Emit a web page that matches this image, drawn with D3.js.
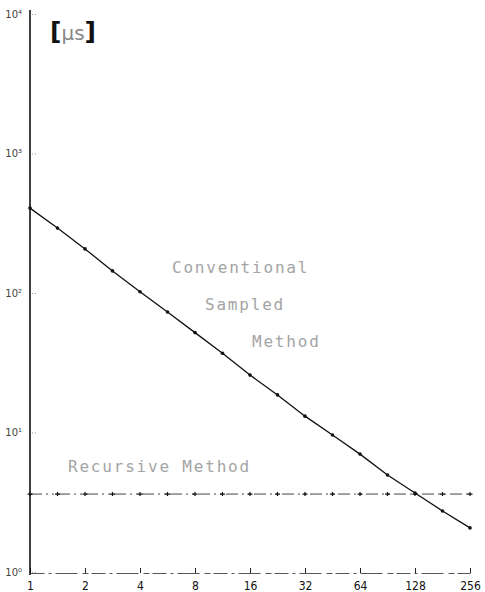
<!DOCTYPE html>
<html>
<head>
<meta charset="utf-8">
<script src="https://cdn.jsdelivr.net/npm/d3@7"></script>
<style>
  body { margin: 0; background: #fff; }
  svg { display: block; }
  .lbl { font-family: "DejaVu Sans Mono", monospace; fill: #a4a4a4; }
</style>
</head>
<body>
<svg id="chart" width="485" height="592"></svg>
<script>
var sizes = [1, 1.414, 2, 2.828, 4, 5.657, 8, 11.31, 16, 22.63, 32, 45.25, 64, 90.51, 128, 181.0, 256];
var conventional = [406, 292, 207, 144, 102, 73, 52, 37, 25.8, 18.6, 13.1, 9.6, 7.0, 4.96, 3.68, 2.74, 2.07];
var recursive = [3.62, 3.62, 3.62, 3.62, 3.62, 3.62, 3.62, 3.62, 3.62, 3.62, 3.62, 3.62, 3.62, 3.62, 3.62, 3.62, 3.62];
var xTicks = [1, 2, 4, 8, 16, 32, 64, 128, 256];
var yTicks = [1, 10, 100, 1000, 10000];
var yTickLabels = ["10\u2070", "10\u00b9", "10\u00b2", "10\u00b3", "10\u2074"];

var svg = d3.select("#chart");

var x = d3.scaleLog().base(2).domain([1, 256]).range([30, 470]);
var y = d3.scaleLog().domain([1, 10000]).range([572, 14]);

// x axis, ticks pointing up, broken baseline
var xAxis = d3.axisBottom(x)
  .tickValues(xTicks)
  .tickFormat(d3.format("d"))
  .tickSize(-5)
  .tickSizeOuter(0)
  .tickPadding(8);
var gx = svg.append("g")
  .attr("transform", "translate(0,573)")
  .call(xAxis);
gx.select(".domain")
  .attr("stroke", "#555")
  .attr("stroke-dasharray", "14,4,3,4,22,5,6,3");
gx.selectAll(".tick line").attr("stroke", "#222");
gx.selectAll(".tick text")
  .attr("font-family", "DejaVu Sans Condensed, sans-serif")
  .attr("font-size", 12)
  .attr("fill", "#111");

// y axis
var yAxis = d3.axisLeft(y)
  .tickValues(yTicks)
  .tickFormat(function(d) { return yTickLabels[yTicks.indexOf(d)]; })
  .tickSize(0)
  .tickPadding(8);
var gy = svg.append("g")
  .attr("transform", "translate(30,0)")
  .call(yAxis);
gy.select(".domain")
  .attr("d", "M0," + (y(10000) - 4) + "V" + (y(1) + 3))
  .attr("stroke", "#111")
  .attr("stroke-width", 1.6);
gy.selectAll(".tick text")
  .attr("font-family", "DejaVu Sans, sans-serif")
  .attr("font-size", 10)
  .attr("fill", "#444");
gy.selectAll(".tick").append("line")
  .attr("x1", 2).attr("x2", 6)
  .attr("stroke", "#999")
  .attr("stroke-dasharray", "1,2");

// recursive method: dash-dot line with + markers
var line = d3.line()
  .x(function(d, i) { return x(sizes[i]); })
  .y(function(d) { return y(d); });
svg.append("path")
  .datum(recursive)
  .attr("d", line)
  .attr("fill", "none")
  .attr("stroke", "#444")
  .attr("stroke-width", 1)
  .attr("stroke-dasharray", "12,4,2,4,2,4");
svg.selectAll(".rmark").data(recursive).enter()
  .append("path")
  .attr("class", "rmark")
  .attr("d", function(d, i) {
    var cx = x(sizes[i]), cy = y(d);
    return "M" + (cx - 2.5) + "," + cy + "H" + (cx + 2.5) + "M" + cx + "," + (cy - 2) + "V" + (cy + 2);
  })
  .attr("stroke", "#111")
  .attr("stroke-width", 1.2);

// conventional sampled method: solid line with dot markers
svg.append("path")
  .datum(conventional)
  .attr("d", line)
  .attr("fill", "none")
  .attr("stroke", "#111")
  .attr("stroke-width", 1.3);
svg.selectAll(".cmark").data(conventional).enter()
  .append("circle")
  .attr("class", "cmark")
  .attr("cx", function(d, i) { return x(sizes[i]); })
  .attr("cy", function(d) { return y(d); })
  .attr("r", 1.8)
  .attr("fill", "#111");

// unit label
var unit = svg.append("text")
  .attr("x", 50).attr("y", 40)
  .attr("font-family", "DejaVu Sans, sans-serif")
  .attr("font-size", 25);
unit.append("tspan").text("[").attr("font-weight", "bold").attr("fill", "#111");
unit.append("tspan").text("\u03bcs").attr("font-size", 20).attr("fill", "#888");
unit.append("tspan").text("]").attr("font-weight", "bold").attr("fill", "#111");

// curve labels
var labels = [
  { t: "Conventional", x: 172, y: 273 },
  { t: "Sampled", x: 205, y: 310 },
  { t: "Method", x: 252, y: 347 },
  { t: "Recursive Method", x: 68, y: 472 }
];
svg.selectAll(".lbl").data(labels).enter()
  .append("text")
  .attr("class", "lbl")
  .attr("x", function(d) { return d.x; })
  .attr("y", function(d) { return d.y; })
  .attr("font-size", 16)
  .attr("letter-spacing", "1.8px")
  .text(function(d) { return d.t; });
</script>
</body>
</html>
